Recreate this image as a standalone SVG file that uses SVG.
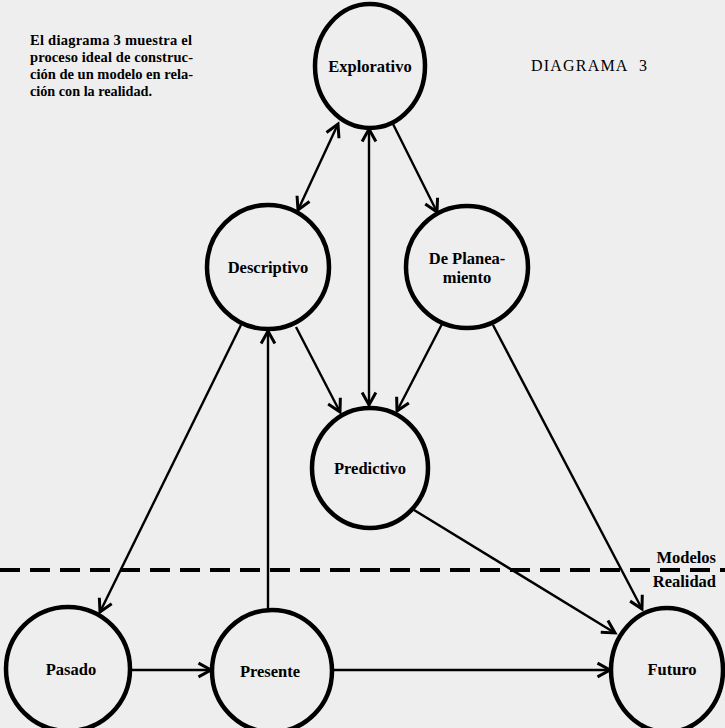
<svg xmlns="http://www.w3.org/2000/svg" width="725" height="728" viewBox="0 0 725 728">
<style>
.node ellipse{fill:none;stroke:#000;stroke-width:4.5}
.node text,.lbl{font-family:"Liberation Serif",serif;font-weight:bold;font-size:16.5px;fill:#000;text-anchor:middle}
.conn line{stroke:#000;stroke-width:2.4;fill:none}
.cap{font-family:"Liberation Serif",serif;font-weight:bold;font-size:14.5px;fill:#000}
</style>
<defs>
<marker id="ah" markerUnits="userSpaceOnUse" markerWidth="20" markerHeight="20" viewBox="-12 -8 14 16" refX="0" refY="0" orient="auto-start-reverse">
<path d="M-10,-5.5 L0,0 L-10,5.5" fill="none" stroke="#000" stroke-width="2.4"/>
</marker>
</defs>
<rect width="725" height="728" fill="#eeeeee"/>
<g id="caption" class="cap">
<text x="30" y="45" textLength="162" lengthAdjust="spacing">El diagrama 3 muestra el</text>
<text x="30" y="62" textLength="163" lengthAdjust="spacing">proceso ideal de construc-</text>
<text x="30" y="79" textLength="163" lengthAdjust="spacing">ción de un modelo en rela-</text>
<text x="30" y="96" textLength="122" lengthAdjust="spacingAndGlyphs">ción con la realidad.</text>
</g>
<text id="title" x="531" y="71" style="font-family:'Liberation Serif',serif;font-size:16px;letter-spacing:1.2px;word-spacing:6px;fill:#000">DIAGRAMA 3</text>
<g id="divider">
<line x1="0" y1="570" x2="725" y2="570" stroke="#000" stroke-width="4" stroke-dasharray="20 10"/>
<text class="lbl" x="716" y="563" style="text-anchor:end">Modelos</text>
<text class="lbl" x="716" y="587" style="text-anchor:end">Realidad</text>
</g>
<g id="connectors" class="conn">
<line x1="338" y1="124" x2="298" y2="210" marker-start="url(#ah)" marker-end="url(#ah)"/>
<line x1="369" y1="129" x2="369" y2="405" marker-start="url(#ah)" marker-end="url(#ah)"/>
<line x1="393" y1="124" x2="437" y2="212" marker-end="url(#ah)"/>
<line x1="296" y1="327" x2="340" y2="412" marker-end="url(#ah)"/>
<line x1="442" y1="324" x2="397" y2="411" marker-end="url(#ah)"/>
<line x1="493" y1="325" x2="642" y2="609" marker-end="url(#ah)"/>
<line x1="414" y1="510" x2="615" y2="633" marker-end="url(#ah)"/>
<line x1="241" y1="325" x2="100" y2="612" marker-end="url(#ah)"/>
<line x1="268" y1="610" x2="268" y2="331" marker-end="url(#ah)"/>
<line x1="131" y1="670" x2="211" y2="670" marker-end="url(#ah)"/>
<line x1="332" y1="670" x2="610" y2="670" marker-end="url(#ah)"/>
</g>
<g id="explorativo" class="node"><ellipse cx="370" cy="66" rx="55" ry="62"/><text x="370" y="72">Explorativo</text></g>
<g id="descriptivo" class="node"><ellipse cx="268" cy="267" rx="61" ry="62"/><text x="268" y="273">Descriptivo</text></g>
<g id="planeamiento" class="node"><ellipse cx="467" cy="267" rx="61" ry="61"/><text x="467" y="264">De Planea-</text><text x="467" y="283">miento</text></g>
<g id="predictivo" class="node"><ellipse cx="370" cy="468" rx="58" ry="60"/><text x="370" y="474">Predictivo</text></g>
<g id="pasado" class="node"><ellipse cx="68" cy="669" rx="62" ry="62"/><text x="71" y="675">Pasado</text></g>
<g id="presente" class="node"><ellipse cx="272" cy="671" rx="60" ry="61"/><text x="270" y="677">Presente</text></g>
<g id="futuro" class="node"><ellipse cx="667" cy="670" rx="56" ry="62"/><text x="672" y="675">Futuro</text></g>
</svg>
